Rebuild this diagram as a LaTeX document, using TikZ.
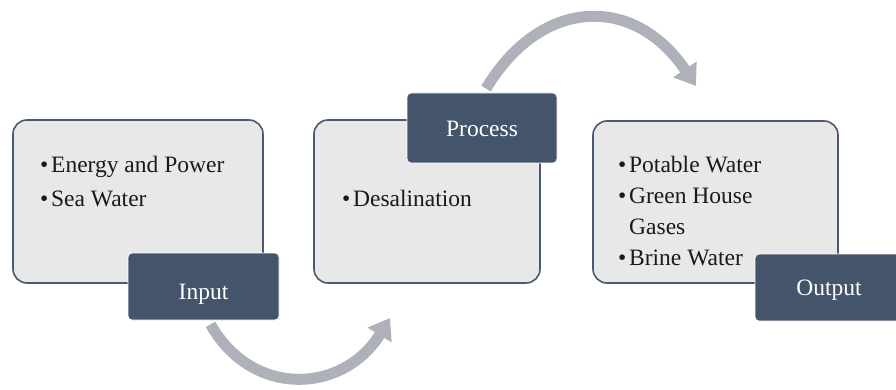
\documentclass[tikz,border=0pt]{standalone}
\usepackage{fontspec}
\setmainfont{Liberation Serif}
\usetikzlibrary{arrows.meta,backgrounds}
\definecolor{boxfill}{HTML}{E8E8E8}
\definecolor{boxline}{HTML}{4A5A72}
\definecolor{labfill}{HTML}{44546A}
\definecolor{arrgray}{HTML}{AEB1B9}
\definecolor{txt}{HTML}{1A1A1A}
\tikzset{
  infobox/.style={draw=boxline, line width=1.6pt, fill=boxfill, rounded corners=14pt, inner sep=0pt},
  tagbox/.style={draw=white, line width=0.8pt, fill=labfill, rounded corners=4pt, inner sep=0pt,
    text=white, text depth=0pt, font=\fontsize{23.5}{28}\selectfont},
  itemtext/.style={anchor=base west, align=left, inner sep=0pt, text=txt,
    font=\fontsize{23.5}{33}\selectfont},
  flowarrow/.style={draw=arrgray, line width=11pt, -{Triangle[length=20pt,width=27pt]}}
}
\newcommand{\bul}{\makebox[11pt][l]{•}}
\begin{document}
\begin{tikzpicture}[x=1pt,y=-1pt]
\useasboundingbox (0,0) rectangle (896,390);
% boxes
\node[infobox, minimum width=250pt, minimum height=163pt] (b1) at (138,201.5) {};
\node[infobox, minimum width=226pt, minimum height=163pt] (b2) at (427,201.5) {};
\node[infobox, minimum width=245pt, minimum height=162pt] (b3) at (715.5,202) {};
% texts
\node[itemtext] (t1) at (40,206) {\bul Energy and Power\\\bul Sea Water};
\node[itemtext] (t2) at (342,207) {\bul Desalination};
\node[itemtext, font=\fontsize{23.5}{30.7}\selectfont] (t3) at (618,265) {\bul Potable Water\\\bul Green House\\\hspace*{11pt}Gases\\\bul Brine Water};
% tags
\node[tagbox, minimum width=151pt, minimum height=67pt, text height=25pt] (in) at (203.5,286.5) {Input};
\node[tagbox, minimum width=150pt, minimum height=70pt, text height=18pt] (pr) at (482,128) {Process};
\node[tagbox, minimum width=148pt, minimum height=67pt, text height=15pt] (out) at (829,287.5) {Output};
% arrows
\coordinate (tipA) at (390,318);
\coordinate (tipB) at (696,86);
\begin{scope}[on background layer]
\draw[flowarrow] ([xshift=7pt,yshift=-4pt]in.south) .. controls (253,399) and (344,393) .. (tipA);
\draw[flowarrow] ([xshift=4pt,yshift=4pt]pr.north) .. controls (541,-3) and (634,-6) .. (tipB);
\end{scope}
\end{tikzpicture}
\end{document}
